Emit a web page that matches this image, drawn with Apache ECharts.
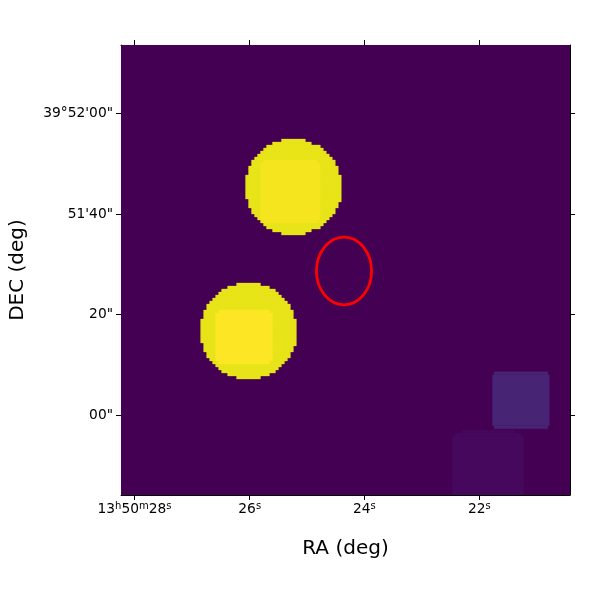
<!DOCTYPE html>
<html><head><meta charset="utf-8">
<style>html,body{margin:0;padding:0;background:#fff}#c{width:600px;height:600px}</style>
<script src="https://cdn.jsdelivr.net/npm/echarts@6/dist/echarts.min.js"></script>
</head><body><div id="c"></div>
<script>
// Image cells on [colStart, colEnd, rowStart, rowEnd]; rows count up from the bottom.
const imageColRange = [-0.6, 149.4];
const imageRowRange = [-0.67, 149.33];
const background = [[-1, 151, -1, 151]];
const upperDiskRows = [
 [53,61,117,118],[50,63,116,117],[48,66,115,116],[47,67,114,115],[46,68,113,114],[45,69,112,113],
 [44,70,111,112],[43,71,110,111],[43,71,109,110],[42,72,108,109],[42,72,107,108],[42,72,106,107],
 [41,73,105,106],[41,73,104,105],[41,73,103,104],[41,73,102,103],[41,73,101,102],[41,73,100,101],
 [41,73,99,100],[41,73,98,99],[42,73,97,98],[42,72,96,97],[42,72,95,96],[43,71,94,95],
 [43,71,93,94],[44,70,92,93],[45,69,91,92],[46,68,90,91],[47,67,89,90],[48,66,88,89],
 [50,63,87,88],[53,61,86,87]
];
const lowerDiskRows = [
 [38,46,69,70],[35,49,68,69],[33,51,67,68],[32,52,66,67],[31,53,65,66],[30,54,64,65],
 [29,55,63,64],[28,56,62,63],[28,56,61,62],[27,57,60,61],[27,57,59,60],[27,57,58,59],
 [26,58,57,58],[26,58,56,57],[26,58,55,56],[26,58,54,55],[26,58,53,54],[26,58,52,53],
 [26,58,51,52],[26,58,50,51],[27,58,49,50],[27,57,48,49],[27,57,47,48],[28,56,46,47],
 [28,56,45,46],[29,55,44,45],[30,54,43,44],[31,53,42,43],[32,52,41,42],[33,51,40,41],
 [35,49,39,40],[38,46,38,39]
];
const upperSquareRows = [[47,65,110,111],[46,66,91,110],[47,65,90,91]];
const lowerSquareRows = [[32,49,60,61],[31,50,44,60],[32,49,43,44]];
const faintSquareRows = [[124,142,39.4,40.4],[123.5,142.5,22.4,39.4],[124,142,21.4,22.4]];
const dimSquareRows = [[113,131,20,21],[111,133,19,20],[110,134,-1,19]];

const backgroundColor = '#440154';
const diskColor = '#e7e419';
const upperSquareColor = '#f5e51f';
const lowerSquareColor = '#fde725';
const faintSquareColor = '#482475';
const dimSquareColor = '#46085c';

const xTickCols = [3.9, 42.4, 80.7, 119.1];
const xTickLabels = ['{n|13}{s|h}{n|50}{s|m}{n|28}{s|s}', '{n|26}{s|s}', '{n|24}{s|s}', '{n|22}{s|s}'];
const yTickRows = [26, 59.5, 93, 126.5];
const yTickLabels = ['00"', '20"', "51'40\"", "39°52'00\""];
const regionCentre = [73.9, 74];
const regionRadii = [9.2, 11.3];

const layer = (rects, color, name) => ({
  type: 'custom', name, coordinateSystem: 'cartesian2d', clip: true, silent: true,
  data: rects,
  encode: { x: [0, 1], y: [2, 3] },
  renderItem(params, api) {
    const a = api.coord([api.value(0), api.value(3)]);
    const b = api.coord([api.value(1), api.value(2)]);
    return { type: 'rect', shape: { x: a[0], y: a[1], width: b[0] - a[0], height: b[1] - a[1] },
      style: { fill: color, stroke: color, lineWidth: 0.3 } };
  }
});
const font = 'DejaVu Sans';
const baseX = (pos, isMain) => ({
  type: 'value', position: pos, min: imageColRange[0], max: imageColRange[1],
  splitLine: { show: false },
  axisLine: { show: true, onZero: false, lineStyle: { color: '#000', width: 1 } },
  axisTick: { show: true, inside: false, length: 5, lineStyle: { color: '#000', width: 1 }, customValues: xTickCols },
  axisLabel: { show: isMain, margin: 6, color: '#000', customValues: xTickCols,
    formatter: (v, i) => xTickLabels[xTickCols.indexOf(v)],
    rich: { n: { fontSize: 13.8, fontFamily: font, color: '#000' },
            s: { fontSize: 10, fontFamily: font, color: '#000', padding: [0, 0, 6, 0] } } },
  name: isMain ? 'RA (deg)' : '', nameLocation: 'middle', nameGap: 44,
  nameTextStyle: { fontSize: 20, fontFamily: font, color: '#000' }
});
const baseY = (pos, isMain) => ({
  type: 'value', position: pos, min: imageRowRange[0], max: imageRowRange[1],
  splitLine: { show: false },
  axisLine: { show: true, onZero: false, lineStyle: { color: '#000', width: 1 } },
  axisTick: { show: true, inside: false, length: 5, lineStyle: { color: '#000', width: 1 }, customValues: yTickRows },
  axisLabel: { show: isMain, margin: 8, color: '#000', fontSize: 13.8, fontFamily: font, customValues: yTickRows,
    formatter: (v) => yTickLabels[yTickRows.indexOf(v)] },
  name: isMain ? 'DEC (deg)' : '', nameLocation: 'middle', nameGap: 93, nameRotate: 90,
  nameTextStyle: { fontSize: 20, fontFamily: font, color: '#000' }
});
const chart = echarts.init(document.getElementById('c'), null, { renderer: 'canvas' });
chart.setOption({
  animation: false,
  backgroundColor: '#fff',
  grid: { left: 121, top: 45, width: 449, height: 450, containLabel: false },
  xAxis: [baseX('bottom', true), baseX('top', false)],
  yAxis: [baseY('left', true), baseY('right', false)],
  series: [
    layer(background, backgroundColor, 'image'),
    layer(dimSquareRows, dimSquareColor, 'dim square'),
    layer(faintSquareRows, faintSquareColor, 'faint square'),
    layer(upperDiskRows, diskColor, 'upper disk'),
    layer(lowerDiskRows, diskColor, 'lower disk'),
    layer(upperSquareRows, upperSquareColor, 'upper square'),
    layer(lowerSquareRows, lowerSquareColor, 'lower square'),
    { type: 'custom', name: 'region', coordinateSystem: 'cartesian2d', silent: true,
      data: [[regionCentre[0], regionCentre[1], regionRadii[0], regionRadii[1]]],
      renderItem(params, api) {
        const c = api.coord([api.value(0), api.value(1)]);
        const e = api.coord([api.value(0) + api.value(2), api.value(1) + api.value(3)]);
        return { type: 'ellipse', shape: { cx: c[0], cy: c[1], rx: e[0] - c[0], ry: c[1] - e[1] },
          style: { fill: 'none', stroke: '#ff0000', lineWidth: 2.8 } };
      } }
  ]
});
</script></body></html>
